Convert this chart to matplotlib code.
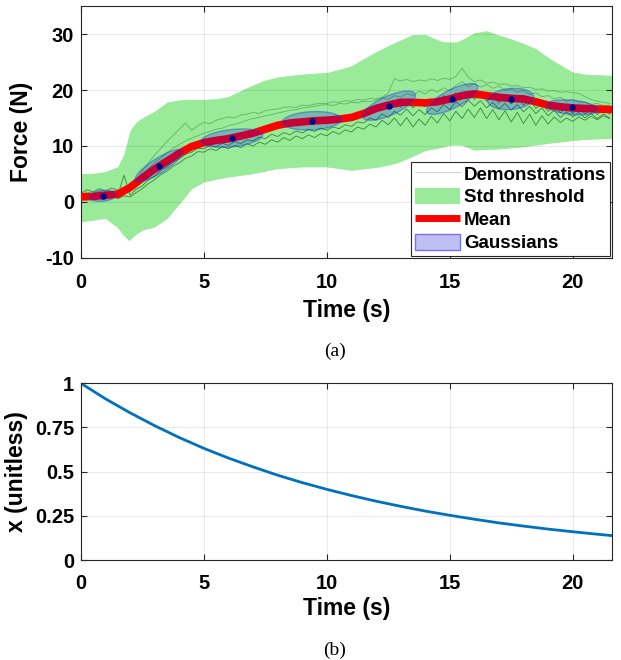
import numpy as np
import matplotlib
matplotlib.use("Agg")
import matplotlib.pyplot as plt
from matplotlib.lines import Line2D
from matplotlib.patches import Patch, Polygon

plt.rcParams['font.family'] = ['Liberation Sans', 'DejaVu Sans']
plt.rcParams['font.weight'] = 'bold'
plt.rcParams['axes.unicode_minus'] = False

# ---- panel (a): force profile ----
mean_t = [0, 0.5, 1.0, 1.5, 2.0, 2.5, 3.0, 3.5, 4.0, 4.5, 5.0, 5.5, 6.0, 6.5, 7.0,
          7.5, 8.0, 8.5, 9.0, 9.5, 10.0, 10.5, 11.0, 11.5, 12.0, 12.5, 13.0, 13.5,
          14.0, 14.5, 15.0, 15.5, 16.0, 16.5, 17.0, 17.5, 18.0, 18.5, 19.0, 19.5,
          20.0, 20.5, 21.0, 21.6]
mean_f = [0.9, 1.0, 1.2, 1.4, 2.6, 4.3, 5.9, 7.3, 8.7, 9.9, 10.6, 11.0, 11.3, 11.8, 12.3,
          13.0, 13.7, 14.1, 14.3, 14.5, 14.6, 14.8, 15.1, 15.8, 16.7, 17.3, 17.8, 17.8,
          17.7, 17.9, 18.4, 19.0, 19.3, 19.0, 18.7, 18.5, 18.4, 17.9, 17.3, 17.0,
          16.8, 16.7, 16.6, 16.5]

up_t = [0, 0.5, 1.0, 1.5, 1.75, 2.0, 2.25, 2.5, 3.0, 3.5, 4.0, 4.5, 5.0, 5.5, 6.0, 6.5,
        7.0, 7.5, 8.0, 8.5, 9.0, 9.5, 10.0, 10.5, 11.0, 11.5, 12.0, 12.5, 13.0, 13.5,
        14.0, 14.5, 15.0, 15.5, 16.0, 16.5, 17.0, 17.5, 18.0, 18.5, 19.0, 19.5, 20.0,
        20.5, 21.0, 21.6]
up_f = [5.0, 5.1, 5.4, 6.3, 8.5, 12.8, 14.3, 15.0, 16.2, 17.8, 18.2, 18.3, 18.3, 18.4,
        18.8, 19.9, 20.9, 21.8, 22.3, 22.6, 22.8, 23.0, 23.1, 23.5, 24.3, 25.6, 26.8,
        27.9, 28.9, 29.9, 29.9, 28.9, 28.2, 28.8, 30.2, 30.6, 29.8, 29.1, 28.3, 27.4,
        25.8, 24.3, 23.2, 22.8, 22.7, 22.6]

lo_t = [0, 0.5, 1.0, 1.5, 1.75, 1.95, 2.2, 2.5, 3.0, 3.5, 4.0, 4.5, 5.0, 5.5, 6.0, 7.0,
        8.0, 9.0, 10.0, 11.0, 12.0, 12.8, 13.5, 14.0, 14.7, 15.3, 16.0, 17.0, 18.0,
        19.0, 20.0, 20.5, 21.6]
lo_f = [-3.5, -3.2, -2.9, -4.6, -6.0, -6.9, -5.8, -5.0, -4.4, -2.9, -0.3, 2.4, 3.6, 4.1,
        4.5, 5.1, 6.0, 6.3, 6.3, 5.7, 6.2, 6.9, 8.2, 9.2, 9.8, 10.5, 9.3, 9.5, 9.9,
        10.5, 11.0, 11.2, 11.4]

# demonstrations, one sample every 0.25 s starting at t = 0
demo_dt = 0.25
demo_a = [1.2, 1.8, 1.4, 2.0, 1.5, 1.9, 1.6, 2.2,
          2.6, 3.8, 5.6, 7.0, 8.4, 9.6, 10.8, 11.9,
          13.0, 14.1, 12.8, 13.6, 14.2, 14.0, 14.6, 14.9,
          15.2, 15.0, 15.5, 15.7, 16.0, 15.8, 16.3, 16.5,
          16.6, 16.9, 17.0, 16.9, 17.3, 17.2, 17.5, 17.6,
          17.6, 17.9, 17.8, 18.1, 18.0, 18.3, 18.2, 18.5,
          18.4, 18.7, 19.5, 22.0, 21.6, 21.9, 21.5, 21.8,
          21.6, 22.0, 21.7, 22.1, 21.9, 22.4, 23.9, 22.3,
          21.5, 21.8, 21.2, 21.4, 21.0, 21.1, 20.7, 20.8,
          20.4, 20.5, 20.1, 20.2, 19.8, 19.9, 19.6, 19.7,
          19.5, 19.4, 18.8, 18.3, 18.0, 17.8, 17.6]
demo_e = [0.6, 1.1, 0.8, 1.3, 0.9, 1.4, 1.2, 2.0,
          3.0, 3.9, 5.0, 6.0, 7.0, 7.9, 8.8, 9.6,
          10.3, 10.9, 11.4, 11.8, 12.3, 12.6, 13.0, 13.2,
          13.6, 13.9, 14.2, 14.6, 14.9, 15.1, 15.4, 15.6,
          15.9, 16.1, 16.4, 16.5, 16.8, 16.9, 17.1, 17.3,
          17.4, 17.2, 17.6, 17.5, 17.8, 17.7, 18.0, 17.9,
          18.2, 18.6, 18.3, 19.0, 18.7, 19.4, 19.0, 19.8,
          19.3, 20.1, 19.6, 20.4, 19.9, 20.8, 21.5, 20.6,
          21.2, 20.5, 21.0, 20.3, 20.7, 19.9, 20.2, 19.6,
          19.9, 19.2, 19.5, 18.8, 19.0, 18.4, 18.7, 18.0,
          18.3, 17.8, 17.9, 17.4, 17.6, 17.2, 17.3]
demo_b = [1.0, 0.5, 1.3, 0.7, 1.4, 0.8, 1.2, 4.8,
          1.2, 2.3, 2.9, 4.0, 4.6, 5.7, 6.3, 7.2,
          7.7, 8.5, 8.9, 9.6, 9.5, 10.1, 9.9, 10.5,
          10.1, 10.8, 10.4, 11.1, 10.9, 11.6, 11.3, 12.1,
          11.7, 12.4, 12.0, 12.7, 12.3, 13.0, 12.6, 13.2,
          12.8, 13.4, 13.1, 13.8, 13.5, 14.3, 14.1, 15.0,
          14.6, 15.7, 15.1, 16.2, 15.5, 16.6, 15.4, 16.5,
          15.6, 16.8, 16.1, 17.4, 16.5, 17.9, 17.0, 18.2,
          17.1, 18.1, 16.8, 17.8, 16.6, 17.6, 16.4, 17.4,
          16.1, 17.1, 15.8, 16.8, 15.4, 16.4, 15.1, 16.1,
          15.2, 16.0, 15.0, 15.8, 14.9, 15.7, 15.0]
demo_c = [0.5, 1.1, 0.4, 1.0, 0.5, 1.2, 0.6, 1.1,
          0.9, 1.7, 2.4, 3.3, 4.0, 4.9, 5.5, 6.4,
          7.0, 7.8, 8.2, 9.0, 8.9, 9.5, 9.2, 9.9,
          9.5, 10.1, 9.7, 10.4, 10.0, 10.7, 10.3, 11.1,
          10.7, 11.5, 11.0, 11.8, 11.3, 12.0, 11.5, 12.2,
          11.8, 12.6, 12.1, 12.9, 12.5, 13.4, 13.0, 13.9,
          13.4, 14.6, 13.8, 15.0, 13.6, 15.1, 13.4, 14.8,
          13.7, 15.3, 14.1, 15.8, 14.5, 16.2, 14.9, 16.6,
          15.1, 16.8, 14.9, 16.5, 14.7, 16.3, 14.3, 16.0,
          14.0, 15.7, 13.7, 15.4, 13.9, 15.2, 14.2, 15.0,
          14.4, 15.2, 14.6, 15.3, 14.7, 15.4, 14.9]
demo_d = [1.5, 2.2, 1.8, 2.4, 1.9, 2.5, 2.1, 2.0,
          2.4, 3.4, 4.5, 5.4, 5.9, 6.9, 7.4, 8.3,
          8.7, 9.5, 9.6, 10.3, 10.2, 10.8, 10.7, 11.2,
          10.9, 11.6, 11.4, 12.1, 11.9, 12.6, 12.5, 13.2,
          13.1, 13.8, 13.5, 14.1, 13.8, 14.3, 14.0, 14.5,
          14.1, 14.7, 14.4, 15.1, 14.9, 15.8, 15.7, 16.5,
          16.2, 17.3, 16.7, 17.8, 16.9, 18.1, 16.8, 17.9,
          17.0, 18.3, 17.6, 19.0, 18.1, 19.5, 18.5, 19.7,
          18.3, 19.3, 18.0, 19.0, 17.7, 18.8, 17.5, 18.6,
          17.3, 18.3, 16.7, 17.7, 16.2, 17.2, 15.9, 16.9,
          15.8, 16.8, 15.7, 16.7, 15.6, 16.6, 15.7]
demos_light = [demo_a, demo_e]
demos_dark = [demo_b, demo_c, demo_d]

# Gaussians: centre, half extent in time / force, correlation
g_mu_t = [0.88, 3.17, 6.14, 9.39, 12.53, 15.10, 17.48, 19.97]
g_mu_f = [1.1, 6.5, 11.4, 14.5, 17.2, 18.4, 18.4, 16.9]
g_ext_t = [0.55, 0.97, 1.25, 1.20, 1.07, 1.04, 0.94, 1.04]
g_ext_f = [1.0, 2.9, 1.65, 1.65, 2.6, 2.75, 1.9, 1.35]
g_rho = [0.2, 0.85, 0.35, 0.15, 0.7, 0.75, 0.15, -0.3]

# ---- panel (b): phase variable ----
x_t = list(range(22)) + [21.6]
x_val = [1.0, 0.912, 0.833, 0.76, 0.693, 0.632, 0.577, 0.527, 0.48, 0.438, 0.40,
         0.365, 0.333, 0.304, 0.277, 0.253, 0.231, 0.21, 0.192, 0.175, 0.16, 0.146,
         0.138]

GREEN = '#99EB99'
TICK_FS, LAB_FS = 14.5, 16.5


def style(ax):
    ax.tick_params(direction='in', top=True, right=True, length=4, width=0.8,
                   labelsize=TICK_FS, colors='0.15', labelcolor='black')
    ax.tick_params(axis='x', pad=11)
    ax.tick_params(axis='y', pad=5)
    for s in ax.spines.values():
        s.set_color('0.15')
        s.set_linewidth(0.8)
    ax.grid(True, color='black', alpha=0.1, lw=0.6)


fig = plt.figure(figsize=(6.21, 6.6), dpi=100)

ax = fig.add_axes([0.1304, 0.6091, 0.8551, 0.3818])
ax.fill_between(up_t, up_f, np.interp(up_t, lo_t, lo_f), color=GREEN, lw=0, zorder=1)
ax.fill_between(lo_t, np.interp(lo_t, up_t, up_f), lo_f, color=GREEN, lw=0, zorder=1)
for d in demos_light:
    ax.plot(np.arange(len(d)) * demo_dt, d, color='#2a7a2a', lw=0.6, alpha=0.5, zorder=2)
for d in demos_dark:
    ax.plot(np.arange(len(d)) * demo_dt, d, color='#1f6e1f', lw=0.6, alpha=0.8, zorder=2)
ax.plot(mean_t, mean_f, color='red', lw=5.5, solid_capstyle='butt', zorder=3)
th = np.linspace(0, 2 * np.pi, 80)
for mt, mf, et, ef, r in zip(g_mu_t, g_mu_f, g_ext_t, g_ext_f, g_rho):
    pts = np.column_stack([mt + et * np.cos(th),
                           mf + ef * (r * np.cos(th) + np.sqrt(1 - r * r) * np.sin(th))])
    ax.add_patch(Polygon(pts, closed=True, facecolor=(0, 0, 1, 0.22),
                         edgecolor=(0.1, 0.3, 0.8, 0.45), lw=1.0, zorder=4))
ax.plot(g_mu_t, g_mu_f, 'o', color='#00008B', ms=3.6, zorder=5)
ax.set_xlim(0, 21.6)
ax.set_ylim(-10, 35)
ax.set_xticks([0, 5, 10, 15, 20])
ax.set_yticks([-10, 0, 10, 20, 30])
style(ax)
ax.set_xlabel('Time (s)', fontsize=LAB_FS, fontweight='bold')
ax.set_ylabel('Force (N)', fontsize=LAB_FS, fontweight='bold')
ax.xaxis.set_label_coords(0.5, -0.163)
ax.yaxis.set_label_coords(-0.090, 0.5)

handles = [Line2D([], [], color='0.82', lw=0.8),
           Patch(facecolor=GREEN, edgecolor='none'),
           Line2D([], [], color='red', lw=5, solid_capstyle='butt'),
           Patch(facecolor=(0.75, 0.75, 0.95), edgecolor=(0.45, 0.45, 0.95), lw=1)]
leg = ax.legend(handles, ['Demonstrations', 'Std threshold', 'Mean', 'Gaussians'],
                loc='lower right', frameon=True, fancybox=False,
                borderaxespad=0.1, borderpad=0.2, labelspacing=0.25, handlelength=2.4,
                handleheight=0.9, handletextpad=0.2, prop={'weight': 'bold', 'size': 13.5})
leg.get_frame().set_edgecolor('0.15')
leg.get_frame().set_linewidth(0.8)
leg.get_frame().set_alpha(1)
leg.set_zorder(10)

fig.text(0.5395, 1 - 351 / 660, '(a)', ha='center', va='center', fontsize=14,
         family='Liberation Serif', fontweight='normal')

ax2 = fig.add_axes([0.1304, 0.1515, 0.8551, 0.2677])
ax2.plot(x_t, x_val, color=(0, 0.447, 0.741), lw=2.0)
ax2.set_xlim(0, 21.6)
ax2.set_ylim(0, 1)
ax2.set_xticks([0, 5, 10, 15, 20])
ax2.set_yticks([0, 0.25, 0.5, 0.75, 1])
ax2.set_yticklabels(['0', '0.25', '0.5', '0.75', '1'])
style(ax2)
ax2.tick_params(axis='x', pad=10)
ax2.set_xlabel('Time (s)', fontsize=LAB_FS, fontweight='bold')
ax2.set_ylabel('x (unitless)', fontsize=LAB_FS, fontweight='bold')
ax2.xaxis.set_label_coords(0.5, -0.212)
ax2.yaxis.set_label_coords(-0.100, 0.5)

fig.text(0.5395, 1 - 650 / 660, '(b)', ha='center', va='center', fontsize=14,
         family='Liberation Serif', fontweight='normal')

fig.savefig('out.png', dpi=100)
